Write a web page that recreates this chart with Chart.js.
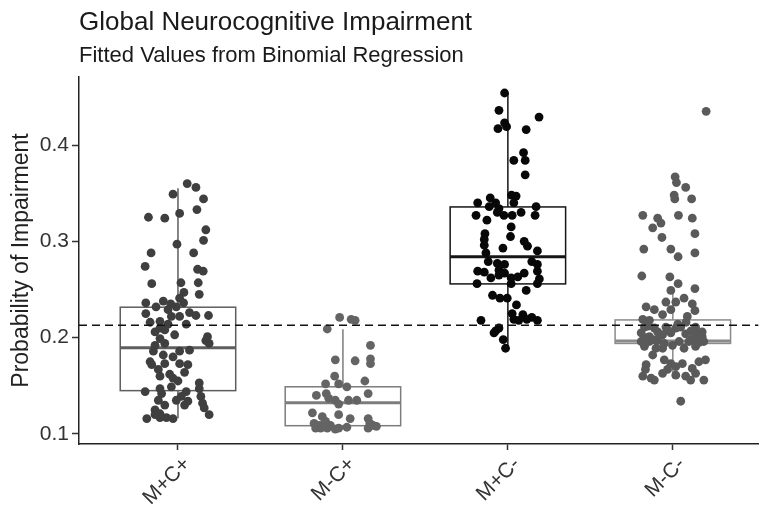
<!DOCTYPE html>
<html>
<head>
<meta charset="utf-8">
<script src="https://cdn.jsdelivr.net/npm/chart.js@4.4.0/dist/chart.umd.min.js"></script>
<style>
  html, body { margin: 0; padding: 0; background: #fff; overflow: hidden; }
</style>
</head>
<body>
<canvas id="myChart" width="763" height="512"></canvas>
<script>
// Categories and axis ticks
var categories = ['M+C+', 'M-C+', 'M+C-', 'M-C-'];
var yTicks = [0.1, 0.2, 0.3, 0.4];
var referenceLine = 0.213;

// Box plot summaries (one entry per category)
var q1 = [0.145, 0.1086, 0.2558, 0.194];
var medians = [0.1896, 0.1325, 0.2841, 0.1965];
var q3 = [0.2316, 0.149, 0.3357, 0.2184];
var whiskerLow = [0.1163, 0.1048, 0.189, 0.1578];
var whiskerHigh = [0.355, 0.2087, 0.4538, 0.2513];

// Fitted values (jittered points) and their horizontal jitter, per group
var mpcpValues = [0.360,0.356,0.349,0.344,0.329,0.333,0.325,0.324,0.312,0.301,
  0.297,0.288,0.288,0.274,0.271,0.269,0.256,0.257,0.257,0.245,
  0.247,0.241,0.238,0.236,0.235,0.232,0.232,0.236,0.229,0.225,
  0.226,0.223,0.223,0.222,0.222,0.217,0.216,0.214,0.214,0.210,
  0.206,0.208,0.203,0.201,0.199,0.197,0.194,0.192,0.194,0.186,
  0.186,0.187,0.182,0.175,0.180,0.172,0.173,0.173,0.172,0.167,
  0.162,0.164,0.160,0.158,0.155,0.153,0.144,0.147,0.149,0.144,
  0.147,0.142,0.139,0.135,0.135,0.134,0.139,0.130,0.130,0.132,
  0.127,0.125,0.121,0.120,0.116,0.117,0.117,0.116,0.120];
var mpcpJitter = [0.056,0.109,-0.030,0.155,0.010,0.115,-0.179,-0.080,0.169,0.155,
  -0.006,-0.163,0.095,-0.199,0.119,0.153,-0.159,0.123,0.018,0.129,
  0.036,0.010,-0.089,-0.195,-0.044,-0.133,-0.010,0.034,-0.060,-0.195,
  0.070,0.109,0.185,0.010,-0.040,-0.109,-0.169,-0.060,0.050,-0.109,
  -0.139,-0.080,-0.020,0.179,-0.109,0.169,0.189,-0.139,-0.080,-0.149,
  0.010,0.070,-0.089,-0.169,-0.030,-0.159,-0.080,0.010,0.060,-0.119,
  -0.050,0.040,-0.109,-0.030,0,0.129,-0.199,-0.109,-0.040,0.050,
  0.129,-0.099,0.020,-0.119,-0.010,0.060,0.139,-0.080,0.040,0.149,
  0.159,-0.139,-0.109,0.189,-0.189,-0.109,-0.070,-0.030,-0.139];

var mmcpValues = [0.221,0.219,0.218,0.209,0.192,0.177,0.176,0.178,0.173,0.160,
  0.152,0.152,0.155,0.149,0.140,0.142,0.142,0.135,0.131,0.135,
  0.135,0.137,0.122,0.118,0.120,0.116,0.116,0.111,0.110,0.109,
  0.106,0.106,0.106,0.106,0.107,0.106,0.109,0.108,0.105,0.109,
  0.113,0.111];
var mmcpJitter = [-0.020,0.050,0.074,-0.095,0.167,-0.046,0.074,0.167,0.167,-0.050,
  -0.105,-0.026,0.133,0.024,-0.161,-0.101,0.153,-0.046,-0.026,0.034,
  0.084,-0.086,-0.185,-0.125,-0.026,0.044,0.153,-0.175,-0.115,-0.076,
  -0.165,-0.135,-0.095,-0.026,0.024,0.153,0.183,0.203,-0.046,-0.145,
  -0.105,0.163];

var mpcmValues = [0.454,0.436,0.429,0.417,0.419,0.423,0.416,0.392,0.384,0.384,
  0.369,0.348,0.347,0.340,0.345,0.340,0.336,0.334,0.340,0.336,
  0.327,0.330,0.327,0.327,0.330,0.327,0.322,0.315,0.308,0.305,
  0.302,0.300,0.296,0.293,0.295,0.290,0.288,0.279,0.279,0.277,
  0.276,0.276,0.269,0.268,0.270,0.267,0.267,0.269,0.262,0.265,
  0.262,0.263,0.261,0.256,0.256,0.256,0.249,0.244,0.241,0.241,
  0.234,0.225,0.224,0.219,0.218,0.219,0.221,0.218,0.218,0.207,
  0.210,0.205,0.198,0.189];
var mpcmJitter = [-0.020,-0.054,0.189,-0.060,-0.008,-0.020,0.111,0.095,0.036,0.105,
  0.105,0.022,0.050,-0.183,-0.107,-0.074,-0.113,-0.054,0.036,0.171,
  -0.193,-0.064,-0.024,0.026,0.080,0.165,-0.127,0.020,-0.139,0.016,
  -0.143,0.099,-0.143,-0.030,0.119,0.179,-0.133,-0.119,0.145,-0.064,
  -0.020,0.179,-0.183,-0.143,-0.054,-0.020,0.099,0.179,-0.103,-0.054,
  0.020,0.060,0.191,-0.187,0.020,0.179,0.111,-0.093,-0.048,-0.004,
  0.052,0.026,0.091,0.036,-0.163,0.115,0.145,0.179,0.066,-0.074,
  -0.054,-0.084,-0.028,-0.014];

var mmcmValues = [0.435,0.367,0.361,0.356,0.348,0.344,0.344,0.327,0.327,0.324,
  0.319,0.314,0.324,0.308,0.304,0.292,0.292,0.284,0.288,0.264,
  0.263,0.256,0.251,0.249,0.241,0.237,0.237,0.232,0.229,0.235,
  0.228,0.229,0.224,0.222,0.219,0.218,0.211,0.210,0.211,0.210,
  0.211,0.211,0.205,0.201,0.203,0.205,0.204,0.205,0.201,0.196,
  0.196,0.197,0.194,0.196,0.196,0.198,0.196,0.191,0.192,0.189,
  0.191,0.182,0.177,0.172,0.173,0.173,0.175,0.177,0.167,0.167,
  0.170,0.168,0.160,0.158,0.163,0.161,0.160,0.163,0.156,0.156,
  0.156,0.134,0.189,0.189,0.206,0.206,0.200,0.198,0.202,0.208,
  0.214,0.216,0.199,0.195,0.212,0.207];
var mmcmJitter = [0.202,0.014,0.022,0.078,0.008,0.012,0.114,-0.182,0.034,-0.092,
  -0.072,-0.122,0.118,0.134,-0.066,-0.176,-0.012,0.032,0.134,-0.188,
  -0.018,0.032,0.134,-0.012,0.068,-0.042,0.018,-0.162,-0.112,0.118,
  0.134,-0.012,-0.062,0.088,-0.182,-0.142,-0.172,-0.112,-0.042,0.018,
  0.048,0.138,-0.192,-0.142,-0.062,-0.012,0.078,0.138,0.178,-0.192,
  -0.142,-0.092,-0.052,0.038,0.098,0.148,0.188,-0.172,-0.002,-0.062,
  0.138,-0.122,-0.052,-0.162,-0.012,0.058,0.158,0.198,-0.166,-0.032,
  0.018,0.118,-0.182,-0.132,-0.062,0.018,0.078,0.138,-0.112,0.108,
  0.188,0.048,-0.102,0.068,0.178,-0.092,-0.170,-0.120,-0.080,-0.030,
  0.030,0.080,0.120,0.160,-0.150,0.110];

var groupValues = [mpcpValues, mmcpValues, mpcmValues, mmcmValues];
var groupJitter = [mpcpJitter, mmcpJitter, mpcmJitter, mmcmJitter];

var pointColors = ['#3f3f3f', '#646464', '#080808', '#5a5a5a'];
var boxColors = ['#5e5e5e', '#7c7c7c', '#151515', '#8a8a8a'];
var boxWidth = 0.7;
var fontFamily = '"Liberation Sans", Arial, Helvetica, sans-serif';

// Draw the boxes and whiskers underneath the points
var boxPlugin = {
  id: 'boxes',
  beforeDatasetsDraw: function (chart) {
    var x = chart.scales.x, y = chart.scales.y, c = chart.ctx;
    c.save();
    categories.forEach(function (cat, i) {
      var xl = x.getPixelForValue(i + 1 - boxWidth / 2);
      var xr = x.getPixelForValue(i + 1 + boxWidth / 2);
      var xm = x.getPixelForValue(i + 1);
      var y1 = y.getPixelForValue(q1[i]), y3 = y.getPixelForValue(q3[i]);
      c.strokeStyle = boxColors[i];
      c.lineWidth = 1.5;
      c.beginPath();
      c.moveTo(xm, y3); c.lineTo(xm, y.getPixelForValue(whiskerHigh[i]));
      c.moveTo(xm, y1); c.lineTo(xm, y.getPixelForValue(whiskerLow[i]));
      c.stroke();
      c.strokeRect(xl, y3, xr - xl, y1 - y3);
      c.lineWidth = 3;
      c.beginPath();
      var ym = y.getPixelForValue(medians[i]);
      c.moveTo(xl, ym); c.lineTo(xr, ym);
      c.stroke();
    });
    c.restore();
  }
};

// Title and subtitle, left aligned with the plot panel
var titlePlugin = {
  id: 'titles',
  afterDraw: function (chart) {
    var c = chart.ctx, left = chart.chartArea.left;
    c.save();
    c.fillStyle = '#1a1a1a';
    c.textBaseline = 'alphabetic';
    c.textAlign = 'left';
    c.font = '26px ' + fontFamily;
    c.fillText('Global Neurocognitive Impairment', left, 30);
    c.font = '22px ' + fontFamily;
    c.fillText('Fitted Values from Binomial Regression', left, 62);
    c.restore();
  }
};

var datasets = categories.map(function (cat, i) {
  return {
    type: 'scatter',
    label: cat,
    data: groupValues[i].map(function (v, j) {
      return { x: i + 1 + groupJitter[i][j], y: v };
    }),
    backgroundColor: pointColors[i],
    borderWidth: 0,
    pointRadius: 4.4,
    order: 1
  };
});

datasets.push({
  type: 'line',
  label: 'reference',
  data: [{ x: 0.4, y: referenceLine }, { x: 4.52, y: referenceLine }],
  borderColor: '#111',
  borderWidth: 1.5,
  borderDash: [8, 5],
  pointRadius: 0,
  order: 0
});

var ctx = document.getElementById('myChart').getContext('2d');

var myChart = new Chart(ctx, {
  type: 'scatter',
  data: { datasets: datasets },
  plugins: [boxPlugin, titlePlugin],
  options: {
    responsive: false,
    animation: false,
    layout: { padding: { top: 77, left: 0, right: 0, bottom: 0 } },
    plugins: {
      legend: { display: false },
      tooltip: { enabled: false }
    },
    scales: {
      x: {
        type: 'linear',
        min: 0.4,
        max: 4.52,
        afterBuildTicks: function (axis) {
          axis.ticks = categories.map(function (c, i) { return { value: i + 1 }; });
        },
        afterFit: function (axis) { axis.height = 68; },
        ticks: {
          autoSkip: false,
          minRotation: 45,
          maxRotation: 45,
          padding: 2,
          labelOffset: 9,
          color: '#333',
          font: { size: 21, family: fontFamily },
          callback: function (v) { return categories[Math.round(v) - 1]; }
        },
        grid: { drawOnChartArea: false, tickLength: 6, tickColor: '#333', tickWidth: 1.5 },
        border: { color: '#222', width: 1.5 }
      },
      y: {
        min: 0.0896,
        max: 0.4706,
        afterBuildTicks: function (axis) {
          axis.ticks = yTicks.map(function (v) { return { value: v }; });
        },
        afterFit: function (axis) { axis.width = 79; },
        ticks: {
          padding: 3,
          color: '#333',
          font: { size: 21, family: fontFamily },
          callback: function (v) { return v.toFixed(1); }
        },
        grid: { drawOnChartArea: false, tickLength: 7, tickColor: '#333', tickWidth: 1.5 },
        border: { color: '#222', width: 1.5 },
        title: {
          display: true,
          text: 'Probability of Impairment',
          color: '#222',
          font: { size: 23, family: fontFamily },
          padding: { top: 8, bottom: 0 }
        }
      }
    }
  }
});
</script>
</body>
</html>
